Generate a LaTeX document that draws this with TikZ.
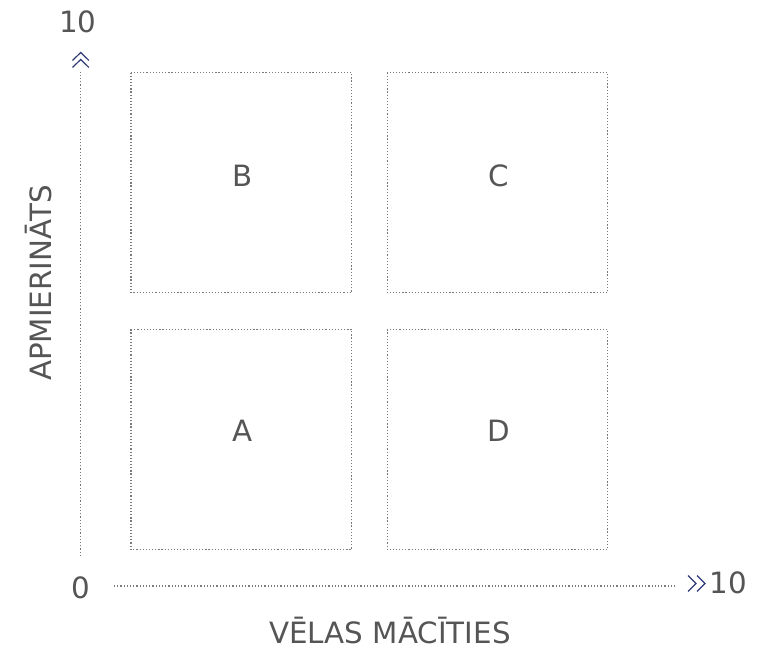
\documentclass[tikz,border=0pt]{standalone}
\usepackage{fontspec}
\setmainfont{DejaVu Sans}
\definecolor{txtgray}{HTML}{555555}
\definecolor{dotgray}{HTML}{7A7A7A}
\definecolor{chevblue}{HTML}{2E3A78}
\tikzset{
  quadbox/.style={draw=dotgray,line width=0.9pt,dash pattern=on 0.9pt off 1.45pt},
  axisline/.style={draw=dotgray,line width=0.9pt,dash pattern=on 0.9pt off 1.5pt},
  chev/.style={draw=chevblue,line width=0.9pt,line join=miter},
  lbl/.style={text=txtgray,font=\fontsize{22}{24}\selectfont,inner sep=0pt},
}
\begin{document}
\begin{tikzpicture}[x=0.75pt,y=-0.75pt]
  \useasboundingbox (0,0) rectangle (763,652);

  % axis ends
  \coordinate (O) at (80.7,556);
  \coordinate (Ytop) at (80.7,72);
  \coordinate (Xl) at (114,586);
  \coordinate (Xr) at (676,586);

  % quadrant corners
  \coordinate (Bnw) at (131,72.7);
  \coordinate (Bse) at (351.7,292.7);
  \coordinate (Cnw) at (387.3,72.7);
  \coordinate (Cse) at (607.7,292.7);
  \coordinate (Anw) at (131,329.3);
  \coordinate (Ase) at (351.7,549.5);
  \coordinate (Dnw) at (387.3,329.3);
  \coordinate (Dse) at (607.7,549.5);

  % dotted axes
  \draw[axisline] (O) -- (Ytop);
  \draw[axisline] (Xl) -- (Xr);

  % chevrons
  \draw[chev] (72.5,60.5) -- (80.7,52.5) -- (88.9,60.5);
  \draw[chev] (72.5,67.5) -- (80.7,59.5) -- (88.9,67.5);
  \draw[chev] (688,575.5) -- (696,583.5) -- (688,591.5);
  \draw[chev] (697,575.5) -- (705,583.5) -- (697,591.5);

  % quadrants
  \draw[quadbox] (Bnw) rectangle (Bse);
  \draw[quadbox] (Cnw) rectangle (Cse);
  \draw[quadbox] (Anw) rectangle (Ase);
  \draw[quadbox] (Dnw) rectangle (Dse);

  % quadrant letters
  \node[lbl] (labB) at (243,176) {B};
  \node[lbl] (labC) at (499,176) {C};
  \node[lbl] (labA) at (243,431) {A};
  \node[lbl] (labD) at (499,431) {D};

  % scale values
  \node[lbl] (ymax) at (78,22) {10};
  \node[lbl] (xmax) at (728,583) {10};
  \node[lbl] (zero) at (80.5,588) {0};

  % axis titles
  \node[lbl,anchor=base] (xtitle) at (390,643) {VĒLAS MĀCĪTIES};
  \node[lbl,anchor=base,rotate=90] (ytitle) at (51,283) {APMIERINĀTS};
\end{tikzpicture}
\end{document}
